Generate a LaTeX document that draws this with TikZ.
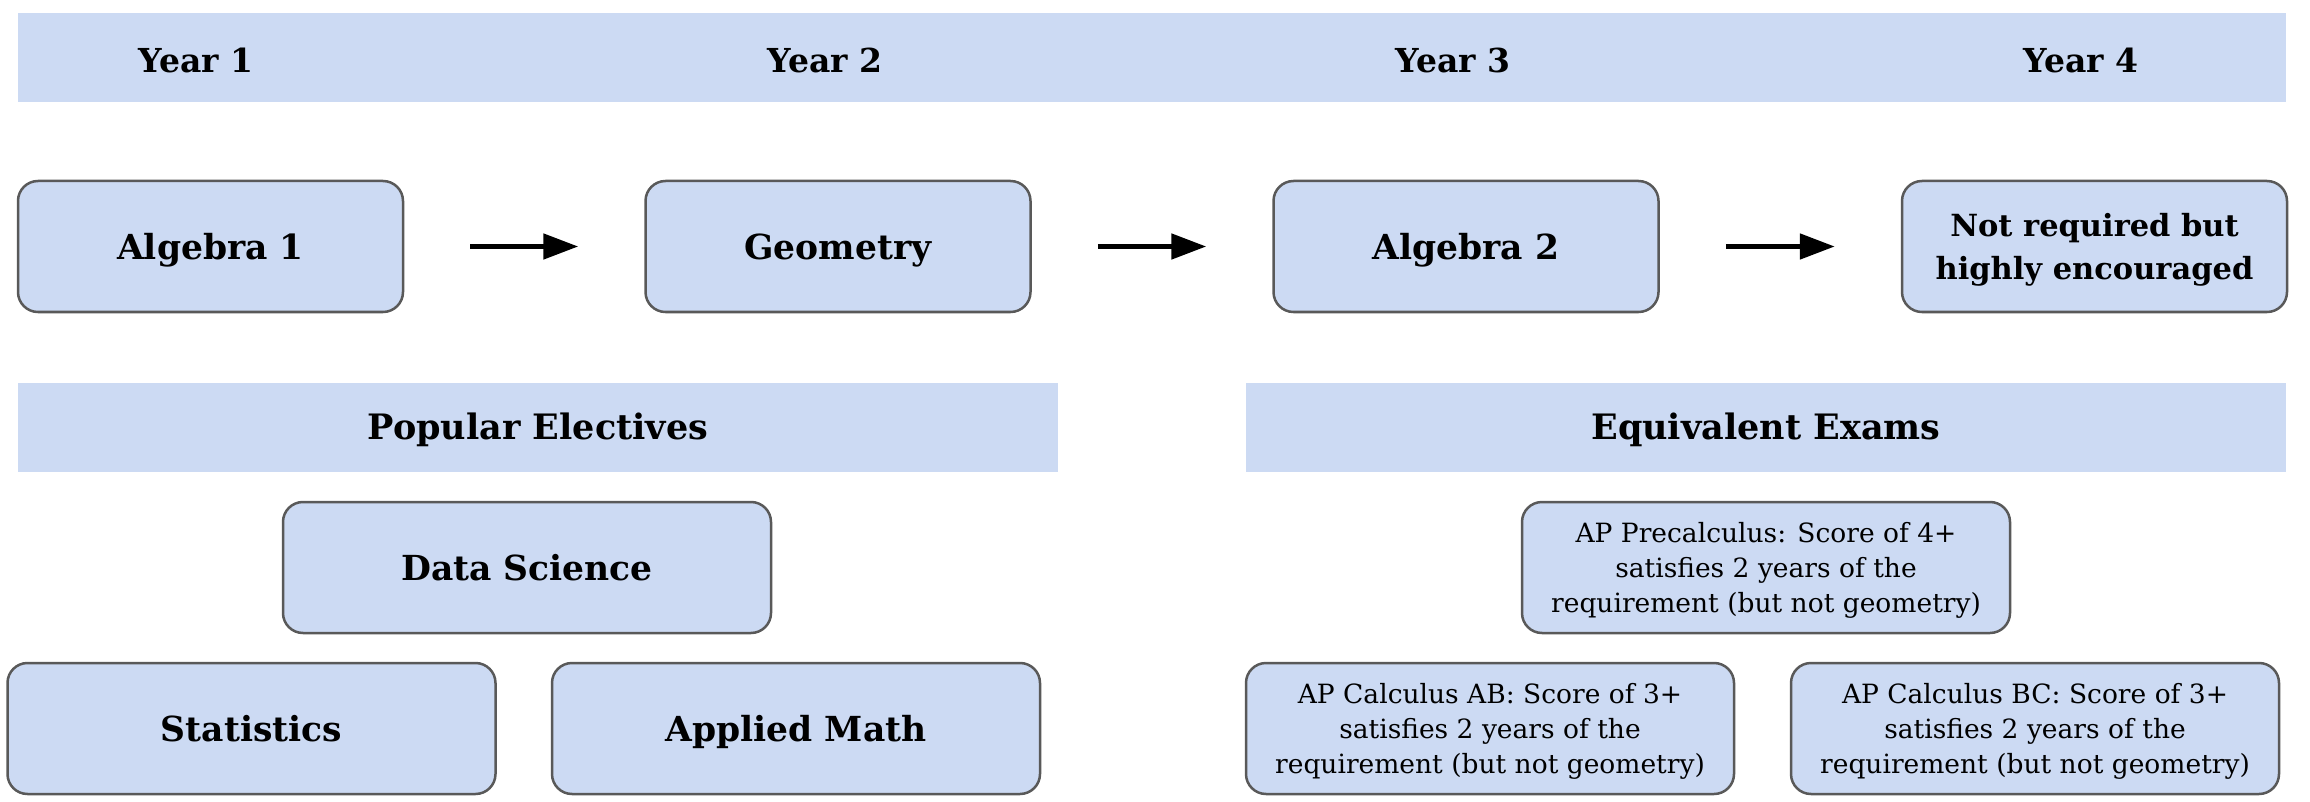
\documentclass[tikz,border=0pt]{standalone}
\usepackage{fontspec}
\setmainfont{DejaVu Serif}
\usetikzlibrary{arrows.meta}
\definecolor{boxfill}{RGB}{204,218,243}
\definecolor{boxline}{RGB}{89,89,89}
\tikzset{
  band/.style={fill=boxfill, draw=none, inner sep=0pt},
  box/.style={draw=boxline, fill=boxfill, line width=2.5pt, rounded corners=20pt,
    minimum height=131pt, inner sep=0pt, align=center, text depth=0pt},
  wbox/.style={box, minimum width=385pt},
  ebox/.style={box, minimum width=488pt},
  bigtxt/.style={font=\bfseries\fontsize{34.5}{43}\selectfont},
  midtxt/.style={font=\bfseries\fontsize{30.5}{43}\selectfont},
  yeartxt/.style={font=\bfseries\fontsize{33}{40}\selectfont, inner sep=0pt},
  smalltxt/.style={font=\fontsize{26.5}{35}\selectfont},
  hdr/.style={font=\bfseries\fontsize{35}{43}\selectfont, inner sep=0pt},
  arr/.style={-{Triangle[length=35pt,width=25pt]}, line width=5pt, shorten <=66pt, shorten >=66pt}
}
\begin{document}
\begin{tikzpicture}[x=1pt,y=-1pt]
\path[use as bounding box] (0,0) rectangle (2310,802);
% top band
\node[band, minimum width=2268pt, minimum height=89pt] (topband) at (1152,57.5) {};
\node[yeartxt] (y1) at (196,60) {Year 1};
\node[yeartxt] (y2) at (825,60) {Year 2};
\node[yeartxt] (y3) at (1453,60) {Year 3};
\node[yeartxt] (y4) at (2081,60) {Year 4};
% course boxes
\node[wbox, bigtxt] (alg1) at (210.5,246.5) {Algebra 1};
\node[wbox, bigtxt] (geo) at (838,246.5) {Geometry};
\node[wbox, bigtxt] (alg2) at (1466,246.5) {Algebra 2};
\node[wbox, midtxt] (nr) at (2094.5,246.5) {Not required but\\highly encouraged};
\draw[arr] (alg1.east) -- (geo.west);
\draw[arr] (geo.east) -- (alg2.west);
\draw[arr] (alg2.east) -- (nr.west);
% section bands
\node[band, minimum width=1040pt, minimum height=89pt] (pe) at (538,427.5) {};
\node[hdr] (petxt) at (538,430) {Popular Electives};
\node[band, minimum width=1040pt, minimum height=89pt] (ee) at (1766,427.5) {};
\node[hdr] (eetxt) at (1766,430) {Equivalent Exams};
% electives
\node[ebox, bigtxt] (ds) at (527,567.5) {Data Science};
\node[ebox, bigtxt] (st) at (251.5,728.5) {Statistics};
\node[ebox, bigtxt] (am) at (796,728.5) {Applied Math};
% exams
\node[ebox, smalltxt] (pre) at (1766,567.5) {AP Precalculus: Score of 4+\\satisfies 2 years of the\\requirement (but not geometry)};
\node[ebox, smalltxt] (ab) at (1490,728.5) {AP Calculus AB: Score of 3+\\satisfies 2 years of the\\requirement (but not geometry)};
\node[ebox, smalltxt] (bc) at (2035,728.5) {AP Calculus BC: Score of 3+\\satisfies 2 years of the\\requirement (but not geometry)};
\end{tikzpicture}
\end{document}
